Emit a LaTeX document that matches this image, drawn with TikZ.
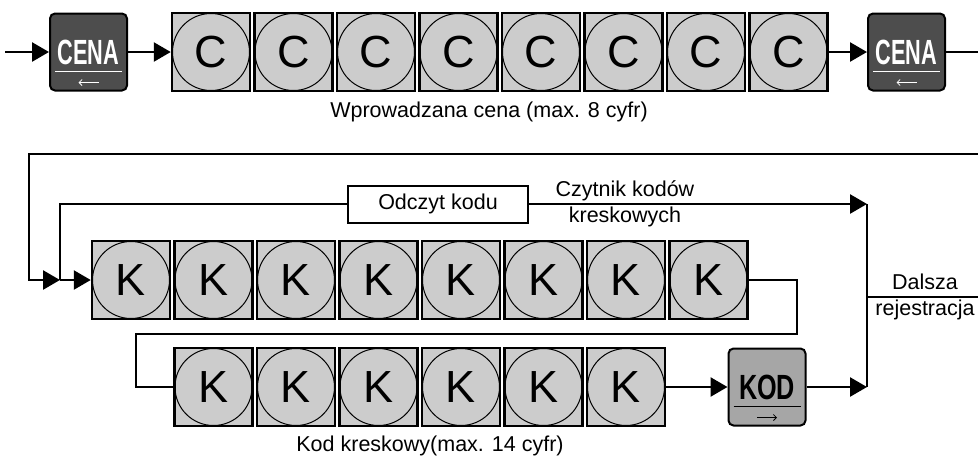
\documentclass[tikz,border=0pt]{standalone}
\usepackage{fontspec}
\setmainfont{Liberation Sans}
\usepackage{graphicx}
\usepackage{tikz}
\usetikzlibrary{arrows.meta, positioning, calc}
\definecolor{boxgray}{RGB}{204,204,204}
\definecolor{keydark}{RGB}{77,77,77}
\definecolor{keylight}{RGB}{166,166,166}

\begin{document}
\begin{tikzpicture}[
    x=1pt, y=-1pt,
    font=\fontsize{21.5}{25.5}\selectfont,
    digit/.style={rectangle, draw=black, line width=2.5pt, fill=boxgray, minimum size=78pt, inner sep=0pt,
      font=\fontsize{45}{45}\selectfont,
      path picture={\draw[line width=1pt] (path picture bounding box.center) circle (38.5pt);}},
    key/.style n args={3}{rectangle, rounded corners=5pt, draw=black, line width=2pt, fill=#1, text=#2,
      minimum width=77pt, minimum height=77pt, inner sep=0pt, font=\fontsize{35}{35}\selectfont\bfseries,
      path picture={
        \draw[#2, line width=1.2pt, sharp corners] ([shift={(5,-19)}]path picture bounding box.south west) -- ([shift={(-5,-19)}]path picture bounding box.south east);
        \draw[#2, line width=0.8pt, sharp corners, #3] ([shift={(-10,-8)}]path picture bounding box.south) -- ([shift={(10,-8)}]path picture bounding box.south);}},
    readbox/.style={rectangle, draw=black, line width=2pt, minimum width=180pt, minimum height=37pt, fill=white},
    line/.style={line width=2.6pt},
    flow/.style={line, -{Triangle[length=17pt, width=19pt]}}
]
\useasboundingbox (0,0) rectangle (978,459);

\node[key={keydark}{white}{{Straight Barb[length=3pt]}-}] (cena1) at (88.5,52) {\scalebox{0.62}[1]{CENA}};
\node[digit] (c1) at (211,52) {C};
\foreach \i [remember=\i as \j (initially 1)] in {2,...,8}
  \node[digit, right=2pt of c\j] (c\i) {C};
\node[key={keydark}{white}{{Straight Barb[length=3pt]}-}] (cena2) at (906.5,52) {\scalebox{0.62}[1]{CENA}};
\node (pricetext) at (489,112) {Wprowadzana cena (max. 8 cyfr)};

\node[readbox] (odczyt) at (438,204) {Odczyt kodu};
\node[align=center] (reader) at (625,204) {Czytnik kodów\\kreskowych};

\node[digit] (k1) at (131,280) {K};
\foreach \i [remember=\i as \j (initially 1)] in {2,...,8}
  \node[digit, right=2pt of k\j] (k\i) {K};
\node[digit] (m1) at (213.5,387) {K};
\foreach \i [remember=\i as \j (initially 1)] in {2,...,6}
  \node[digit, right=2pt of m\j] (m\i) {K};
\node[key={keylight}{black}{-{Straight Barb[length=3pt]}}] (kod) at (767,387) {\scalebox{0.72}[1]{KOD}};
\node (codetext) at (430,446) {Kod kreskowy(max. 14 cyfr)};

\node[align=center] (next) at (925,297) {Dalsza\\rejestracja};

\coordinate (in) at (5,52);
\coordinate (join) at (60,280);
\coordinate (dalsza) at (867,204);
\coordinate (exit) at (867,387);
\coordinate (split) at (867,297);
\coordinate (rightend) at (985,297);

\draw[flow] (in) -- (cena1);
\draw[flow] (cena1) -- (c1);
\draw[flow] (c8) -- (cena2);
\draw[flow] (cena2.east) -- (984,52) |- (29,154) |- (join);
\draw[line] (join) |- (odczyt.west);
\draw[flow] (odczyt.east) -- (dalsza);
\draw[flow] (join) -- (k1.west);
\draw[line] (k8.east) -| (797,334) -| (136,387) -- (m1.west);
\draw[flow] (m6) -- (kod);
\draw[flow] (kod) -- (exit);
\draw[line] (dalsza) -- (exit);
\draw[line] (split) -- (rightend);
\end{tikzpicture}
\end{document}
